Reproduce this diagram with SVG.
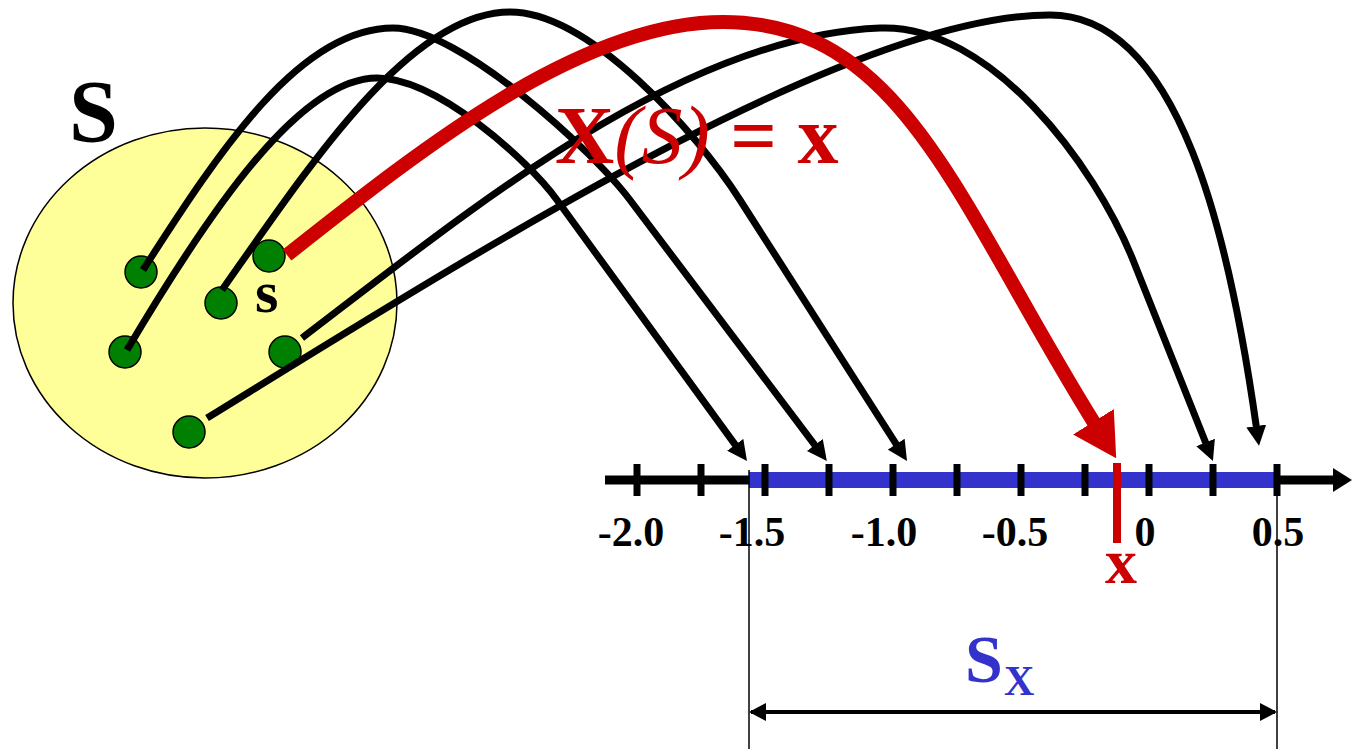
<svg xmlns="http://www.w3.org/2000/svg" width="1355" height="749" viewBox="0 0 1355 749">
  <style>
    .dot { fill: #008000; stroke: #000; stroke-width: 1.5; }
    .arc { fill: none; stroke: #000; stroke-width: 7; marker-end: url(#ah); }
    .tick { stroke: #000; stroke-width: 7; }
    .num { font-family: "Liberation Serif", "Times New Roman", serif; font-weight: bold; font-size: 42px; fill: #000; text-anchor: middle; }
    .serif { font-family: "Liberation Serif", "Times New Roman", serif; }
  </style>
  <defs>
    <marker id="ah" markerUnits="userSpaceOnUse" markerWidth="20" markerHeight="20" viewBox="0 0 20 20" refX="2" refY="10" orient="auto">
      <path d="M0,0 L20,10 L0,20 z" fill="#000"/>
    </marker>
    <marker id="ahRed" markerUnits="userSpaceOnUse" markerWidth="43" markerHeight="48" viewBox="0 0 43 48" refX="2" refY="24" orient="auto">
      <path d="M0,0 L43,24 L0,48 z" fill="#CC0000"/>
    </marker>
    <marker id="dbl" markerUnits="userSpaceOnUse" markerWidth="17" markerHeight="18" viewBox="0 0 17 18" refX="15" refY="9" orient="auto-start-reverse">
      <path d="M0,0 L17,9 L0,18 z" fill="#000"/>
    </marker>
  </defs>

  <g id="sample-space">
    <ellipse cx="205" cy="303" rx="192" ry="175" fill="#FFFF99" stroke="#000" stroke-width="1.5"/>
    <text x="69" y="141" class="serif" font-size="88" font-weight="bold" fill="#000">S</text>
  </g>

  <g id="outcomes">
    <circle id="o1" class="dot" cx="141" cy="272" r="16"/>
    <circle id="o2" class="dot" cx="125" cy="352" r="16"/>
    <circle id="o3" class="dot" cx="221" cy="303" r="16"/>
    <circle id="o4" class="dot" cx="269" cy="256" r="16"/>
    <circle id="o5" class="dot" cx="285" cy="352" r="16"/>
    <circle id="o6" class="dot" cx="189" cy="432" r="16"/>
    <text id="s-label" x="255" y="312" class="serif" font-size="60" font-weight="bold" fill="#000">s</text>
  </g>

  <g id="axis">
    <line x1="605" y1="480" x2="1336" y2="480" stroke="#000" stroke-width="9"/>
    <polygon points="1333,468 1352,480 1333,492" fill="#000"/>
    <rect id="range-bar" x="749" y="472" width="528" height="16" fill="#3333CC"/>
    <g id="ticks">
      <line class="tick" x1="637" y1="464" x2="637" y2="496"/>
      <line class="tick" x1="701" y1="464" x2="701" y2="496"/>
      <line class="tick" x1="765" y1="464" x2="765" y2="496"/>
      <line class="tick" x1="829" y1="464" x2="829" y2="496"/>
      <line class="tick" x1="893" y1="464" x2="893" y2="496"/>
      <line class="tick" x1="957" y1="464" x2="957" y2="496"/>
      <line class="tick" x1="1021" y1="464" x2="1021" y2="496"/>
      <line class="tick" x1="1085" y1="464" x2="1085" y2="496"/>
      <line class="tick" x1="1149" y1="464" x2="1149" y2="496"/>
      <line class="tick" x1="1213" y1="464" x2="1213" y2="496"/>
      <line class="tick" x1="1277" y1="464" x2="1277" y2="496"/>
    </g>
    <g id="labels">
      <text class="num" x="631" y="546">-2.0</text>
      <text class="num" x="752" y="546">-1.5</text>
      <text class="num" x="884" y="546">-1.0</text>
      <text class="num" x="1015" y="546">-0.5</text>
      <text class="num" x="1145" y="546">0</text>
      <text class="num" x="1278" y="546">0.5</text>
    </g>
  </g>

  <g id="value-x">
    <rect x="1113" y="463" width="8" height="80" fill="#CC0000"/>
    <text x="1121" y="583" class="serif" font-size="64" font-weight="bold" fill="#CC0000" text-anchor="middle">x</text>
  </g>

  <g id="range-span">
    <line x1="749" y1="470" x2="749" y2="749" stroke="#000" stroke-width="1.5"/>
    <line x1="1277" y1="470" x2="1277" y2="749" stroke="#000" stroke-width="1.5"/>
    <line x1="751" y1="712" x2="1275" y2="712" stroke="#000" stroke-width="4" marker-start="url(#dbl)" marker-end="url(#dbl)"/>
    <text x="965" y="682" class="serif" font-size="68" font-weight="bold" fill="#3333CC">S<tspan x="1004" y="695" font-size="42">X</tspan></text>
  </g>

  <g id="connectors">
    <path class="arc" d="M127,350 C210,210 300,78 377,78 C437,78 528,160 557,200 L736.4,446.4"/>
    <path class="arc" d="M143,270 C220,150 300,28 393,28 C460,28 594,152 630,200 L816,446.6"/>
    <path class="arc" d="M222,290 C310,165 410,12 510,12 C590,12 697,133 740,200 L897.3,445.8"/>
    <path class="arc" d="M302,338 C470,210 680,36 880,28 C990,23.6 1095,165 1133,260 L1206.3,444.3"/>
    <path class="arc" d="M207,418 C480,250 850,15 1050,15 C1180,15 1230,240 1256.5,428"/>
    <path id="mapping" d="M287,255 C420,150 580,22 723,22 C903,22 957,202.8 1094.5,423.5" fill="none" stroke="#CC0000" stroke-width="14" marker-end="url(#ahRed)"/>
  </g>

  <g id="mapping-label">
    <text x="555" y="163" class="serif" font-size="82" font-weight="bold" fill="#CC0000">X<tspan font-style="italic" font-weight="normal">(S)</tspan> = x</text>
  </g>
</svg>
